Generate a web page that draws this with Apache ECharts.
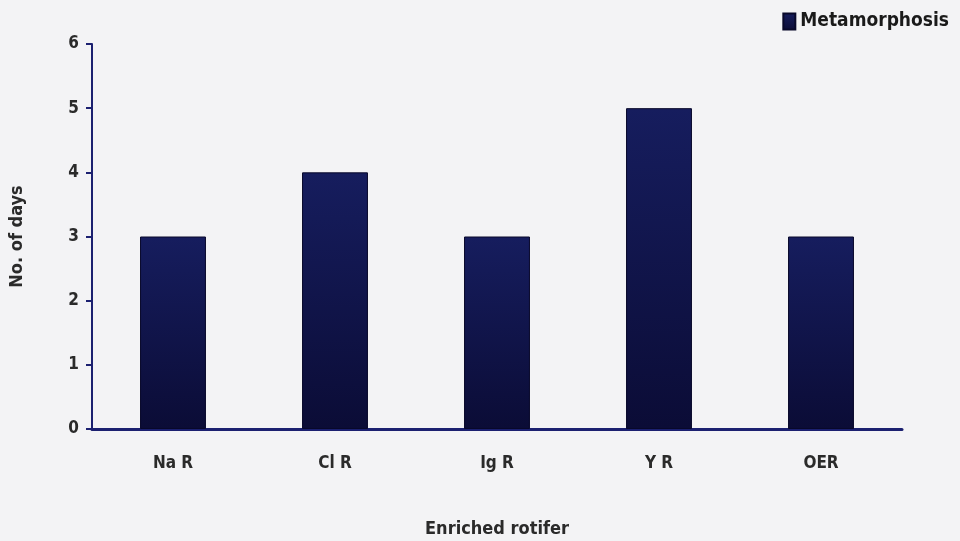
<!DOCTYPE html>
<html>
<head>
<meta charset="utf-8">
<script src="https://cdn.jsdelivr.net/npm/echarts@6/dist/echarts.min.js"></script>
<style>
  html, body { margin: 0; padding: 0; background: #f3f3f5; }
  #chart { width: 960px; height: 541px; }
</style>
</head>
<body>
<div id="chart"></div>
<script>
// data
const categories = ['Na R', 'Cl R', 'Ig R', 'Y R', 'OER'];
const metamorphosis = [3, 4, 3, 5, 3];
const seriesName = 'Metamorphosis';

const axisColor = '#1b2070';
const font = '"DejaVu Sans Condensed", "Liberation Sans Narrow", "Arial Narrow", sans-serif';

const chart = echarts.init(document.getElementById('chart'));
chart.setOption({
  backgroundColor: '#f3f3f5',
  animation: false,
  textStyle: { fontFamily: font },
  legend: {
    data: [seriesName],
    icon: 'rect',
    right: 6,
    top: 7,
    itemWidth: 12,
    itemHeight: 16,
    itemGap: 4,
    textStyle: { fontSize: 19, fontWeight: 'bold', color: '#1a1a1a', fontFamily: font }
  },
  grid: { left: 92, right: 58, top: 44, bottom: 112, outerBoundsMode: 'none', containLabel: false },
  xAxis: {
    type: 'category',
    data: categories,
    name: 'Enriched rotifer',
    nameLocation: 'middle',
    nameGap: 91,
    nameTextStyle: { fontSize: 18, fontWeight: 'bold', color: '#2a2a2a', fontFamily: font },
    axisLine: { lineStyle: { color: axisColor, width: 3 } },
    axisTick: { show: false },
    axisLabel: { fontSize: 17, fontWeight: 'bold', color: '#2a2a2a', margin: 26 }
  },
  yAxis: {
    type: 'value',
    min: 0,
    max: 6,
    interval: 1,
    name: 'No. of days',
    nameLocation: 'middle',
    nameGap: 66,
    nameTextStyle: { fontSize: 18, fontWeight: 'bold', color: '#2a2a2a', fontFamily: font },
    axisLine: { show: true, lineStyle: { color: axisColor, width: 2 } },
    axisTick: { show: true, length: 6, lineStyle: { color: axisColor, width: 2 } },
    axisLabel: { fontSize: 17, fontWeight: 'bold', color: '#2a2a2a', margin: 13 },
    splitLine: { show: false }
  },
  series: [{
    name: seriesName,
    type: 'bar',
    data: metamorphosis,
    barWidth: '40.7%',
    itemStyle: {
      color: new echarts.graphic.LinearGradient(0, 0, 0, 1, [
        { offset: 0, color: '#161d5e' },
        { offset: 1, color: '#0b0c36' }
      ]),
      borderColor: '#08082a',
      borderWidth: 1
    }
  }]
});
</script>
</body>
</html>
